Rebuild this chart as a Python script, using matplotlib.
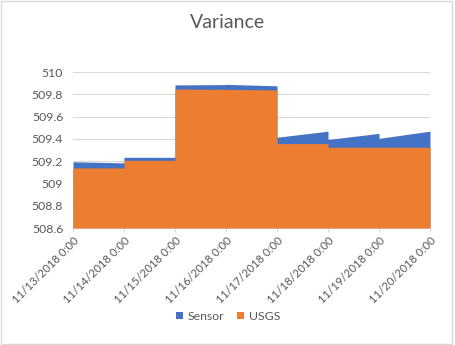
import numpy as np
import pandas as pd
import matplotlib
matplotlib.use("Agg")
import matplotlib.pyplot as plt
import matplotlib.dates as mdates
from matplotlib.patches import Rectangle

# daily segments: value at the start and end of each day
seg_days = pd.date_range("2018-11-13", periods=7, freq="D")
sensor_start = [509.195, 509.235, 509.885, 509.890, 509.415, 509.395, 509.405]
sensor_end = [509.185, 509.235, 509.888, 509.877, 509.470, 509.450, 509.470]
usgs_start = [509.140, 509.208, 509.848, 509.845, 509.358, 509.325, 509.325]
usgs_end = [509.140, 509.208, 509.845, 509.840, 509.358, 509.325, 509.325]

tick_days = pd.date_range("2018-11-13", "2018-11-20", freq="D")
tick_labels = [d.strftime("%m/%d/%Y").lstrip("0") + " 0:00" for d in tick_days]

def step_series(starts, ends):
    xs, ys = [], []
    for d, a, b in zip(seg_days, starts, ends):
        xs += [d, d + pd.Timedelta(days=1)]
        ys += [a, b]
    return mdates.date2num(xs), np.array(ys)

plt.rcParams['font.family'] = ['Lato', 'DejaVu Sans']
grey = "#595959"

fig = plt.figure(figsize=(4.56, 3.45), dpi=100)
ax = fig.add_axes([0.160, 0.339, 0.783, 0.452])

xs, ys = step_series(sensor_start, sensor_end)
ax.fill_between(xs, 508.6, ys, color="#4472C4", lw=0, label="Sensor", zorder=2)
xu, yu = step_series(usgs_start, usgs_end)
ax.fill_between(xu, 508.6, yu, color="#ED7D31", lw=0, label="USGS", zorder=3)

ax.set_ylim(508.6, 510.0)
ax.set_xlim(mdates.date2num(tick_days[0]), mdates.date2num(tick_days[-1]))
ax.set_yticks(np.arange(508.6, 510.01, 0.2))
ax.set_yticklabels(["508.6", "508.8", "509", "509.2", "509.4", "509.6", "509.8", "510"])
ax.set_xticks(mdates.date2num(tick_days))
ax.set_xticklabels(tick_labels, rotation=45, ha="right", rotation_mode="anchor")

ax.grid(axis="y", color="#D9D9D9", lw=0.8, zorder=1)
ax.set_axisbelow(True)
for s in ["top", "right", "left"]:
    ax.spines[s].set_visible(False)
ax.spines["bottom"].set_color("#D9D9D9")
ax.tick_params(axis="y", length=0, labelsize=8.8, colors=grey, pad=7)
ax.tick_params(axis="x", length=3, color="#D9D9D9", labelsize=8.2, labelcolor=grey, pad=2)

fig.text(0.5, 0.935, "Variance", ha="center", va="center", fontsize=14, color=grey)

handles, labels = ax.get_legend_handles_labels()
fig.legend(handles, labels, loc="center", bbox_to_anchor=(0.5, 0.083), ncol=2,
           frameon=False, fontsize=8.8, labelcolor=grey, handlelength=0.6,
           handleheight=0.6, columnspacing=1.0, handletextpad=0.4)

fig.patches.append(Rectangle((0.002, 0.003), 0.99, 0.994, transform=fig.transFigure,
                             fill=False, ec="#D9D9D9", lw=1))

fig.savefig("out.png", dpi=100)
